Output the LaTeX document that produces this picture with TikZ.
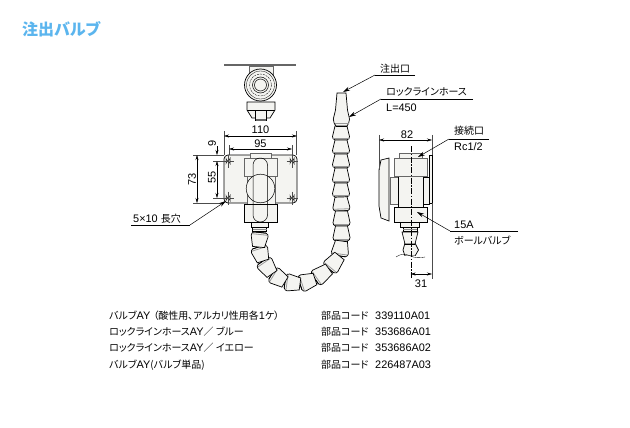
\documentclass[tikz,border=0pt]{standalone}
\usepackage{fontspec}
\setmainfont{Liberation Sans}
\newfontfamily\jp{Noto Sans CJK JP}[RawFeature=+palt,Scale=0.915]
\newfontfamily\jptitle{Noto Sans CJK JP}[RawFeature=+palt]
\usetikzlibrary{arrows.meta,calc}
\definecolor{body}{HTML}{F4F4F1}
\definecolor{titleblue}{HTML}{5BB5EE}
\tikzset{
  part/.style={draw=black,line width=.7pt,fill=body},
  softpart/.style={draw=black!60,line width=.7pt,fill=body},
  dimline/.style={draw=black,line width=.4pt,{Stealth[length=5pt,width=3pt]}-{Stealth[length=5pt,width=3pt]}},
  dimone/.style={draw=black,line width=.4pt,-{Stealth[length=5pt,width=3pt]}},
  leader/.style={draw=black,line width=.5pt,-{Stealth[length=7pt,width=4pt]}},
  shelf/.style={draw=black,line width=.5pt},
  extline/.style={draw=black!70,line width=.3pt},
  lbl/.style={inner sep=0pt,anchor=west,font=\fontsize{10.9}{12}\selectfont},
  dimlbl/.style={inner sep=0pt,font=\fontsize{11}{12}\selectfont},
  centerl/.style={draw=black,line width=.4pt,dash pattern=on 6pt off 1.5pt on 1.5pt off 1.5pt},
}
\newcommand{\hseg}[4]{%
  \pgfmathsetmacro\hang{atan2(-(#4-(#2)),#3-(#1))+90}%
  \pgfmathsetmacro\hlen{veclen(#3-(#1),#4-(#2))}%
  \begin{scope}[shift={(#1,#2)},rotate=\hang]
    \path[part] (-6,0) -- (-8.5,\hlen-3.5) .. controls (-8.8,\hlen-2) and (-7.5,\hlen-.5) .. (-6,\hlen)
      -- (6,\hlen) .. controls (7.5,\hlen-.5) and (8.8,\hlen-2) .. (8.5,\hlen-3.5) -- (6,0) -- cycle;
    \draw[black!40,line width=.8pt] (-7.6,\hlen-2) -- (7.6,\hlen-2);
    \draw[black,line width=.8pt] (-6,\hlen) -- (6,\hlen);
  \end{scope}}
\newcommand{\slot}[2]{%
  \draw[black!70,line width=.3pt] (#1-5.5,#2) -- (#1+5.5,#2) (#1,#2-6.5) -- (#1,#2+6.5);
  \path[part,line width=.5pt] (#1-2,#2-2.5) arc[start angle=180,end angle=0,radius=2] -- (#1+2,#2+2.5) arc[start angle=0,end angle=-180,radius=2] -- cycle;}
\begin{document}
\begin{tikzpicture}[x=1pt,y=-1pt]
\useasboundingbox[fill=white] (0,0) rectangle (630,428);
% title
\node[inner sep=0pt,anchor=west,text=titleblue,font=\fontsize{16}{18}\selectfont\jptitle\bfseries] (title) at (22,29) {注出バルブ};

% top view
\draw[black!60,line width=2.4pt] (224,65) -- (296,65);
\path[softpart] (249,66) rectangle (273,80);
\path[part] (247,102) -- (275,102) -- (275,110) -- (270,118) -- (252,118) -- (247,110) -- cycle;
\path[part] (255,110) rectangle (266,120);
\draw[black!60,line width=1.2pt] (255.5,120) -- (265.5,120);
\draw[line width=.4pt] (247,110) -- (275,110);
\path[part] (260.5,85) circle[radius=16];
\draw[line width=.3pt] (260.5,85) circle[radius=14];
\draw[line width=.35pt,dash pattern=on 2pt off 1pt] (260.5,85) circle[radius=11];
\draw[line width=.5pt] (260.5,85) circle[radius=8];
\draw[line width=.5pt] (260.5,85) circle[radius=6];

% front view
\path[part,rounded corners=4pt] (224,155) rectangle (297,203);
\slot{228}{161}\slot{292}{161}\slot{228}{198}\slot{292}{198}
\path[softpart] (250,153) rectangle (271,158);
\path[softpart] (247,176) rectangle (275,204);
\path[softpart] (244,158) rectangle (277,176);
\path[part] (244,204) rectangle (277,222);
\path[part,line width=.5pt] (260.5,188.5) circle[radius=14.3];
\draw[line width=.5pt,rounded corners=7pt] (253,158) rectangle (267.5,222);
\draw[line width=.45pt] (253,204) -- (267.5,204);
\path[part] (251,222) rectangle (268,227);
\path[part] (252.5,227) rectangle (266.5,231);
\draw[black!45,line width=.8pt] (252.5,229) -- (266.5,229);

% hose
\hseg{341}{126}{341}{140}
\hseg{341}{140}{341}{154}
\hseg{341}{154}{341}{168}
\hseg{341}{168}{341}{183}
\hseg{341}{183}{341}{197}
\hseg{341}{197}{341.5}{211}
\hseg{341.5}{211}{341.5}{226}
\hseg{341.5}{226}{341.5}{241}
\hseg{341.5}{241}{339.5}{256}
\hseg{339.5}{256}{329}{269}
\hseg{329}{269}{315}{279}
\hseg{315}{279}{300}{284}
\hseg{300}{284}{285}{282}
\hseg{285}{282}{272}{274}
\hseg{272}{274}{263}{261}
\hseg{263}{261}{258.5}{247}
\hseg{258.5}{247}{260}{232.5}
% nozzle
\path[part] (337,93) -- (346,93) -- (347.5,110) -- (349.5,119) .. controls (349.7,122) and (348,125) .. (347,126) -- (336,126) .. controls (335,125) and (333,122) .. (333.3,119) -- (335.5,110) -- cycle;
\draw[black!40,line width=.8pt] (334.5,123.5) -- (348.5,123.5);
\draw[black,line width=.8pt] (336,126) -- (347,126);

% side view
\path[part] (423,177) rectangle (429,204);
\path[part] (429,155) rectangle (432,203);
\path[softpart] (390,177) rectangle (398,204);
\path[part] (381,160) -- (389,158) -- (389,221) -- (381,218) -- (379,206) -- (379,170) -- cycle;
\path[softpart] (399,153) rectangle (422,158);
\path[part] (398,173) rectangle (423,207);
\path[softpart] (394,158) rectangle (427,176);
\path[part] (394,207) rectangle (427.5,222);
\path[part] (400,222) rectangle (419,227);
\path[part] (403,227) rectangle (417,231);
\path[part] (405,243) -- (403,250) -- (405,256) -- (415,256) -- (418.5,250) -- (415,243) -- cycle;
\path[part] (402,232) -- (418,232) -- (415,244) -- (405,244) -- cycle;
\draw[black!45,line width=.8pt] (403,229) -- (417,229);
\draw[black,line width=.8pt] (405,244) -- (415,244);
\path[fill=white] (395,256) -- (395,262) -- (426,262) -- (426,256) -- cycle;
\draw[line width=.35pt] (396,257) .. controls (402,253) and (406,254) .. (410.5,256) .. controls (415,258) and (420,258) .. (425,257);
\path[centerl] (410.7,146) -- (410.7,279);
\draw[extline] (432,203) -- (432,279);

% dimensions: front view
\coordinate (a110l) at (224,136); \coordinate (a110r) at (297,136);
\coordinate (a95l) at (229,149); \coordinate (a95r) at (292,149);
\draw[extline] (224,131) -- (224,155) (296.5,131) -- (296.5,155);
\draw[extline] (229,145) -- (229,155) (292,145) -- (292,155);
\draw[dimline] (a110l) -- (a110r);
\draw[dimline] (a95l) -- (a95r);
\node[dimlbl] (d110) at (260.5,130) {110};
\node[dimlbl] (d95) at (260.5,144) {95};
\draw[extline] (193,155) -- (224,155) (193,203) -- (224,203);
\draw[extline] (213,161) -- (224,161) (213,198) -- (224,198);
\coordinate (a73t) at (197,155); \coordinate (a73b) at (197,203);
\coordinate (a55t) at (217,161); \coordinate (a55b) at (217,198);
\coordinate (a9t) at (217,146); \coordinate (a9b) at (217,155);
\draw[dimline] (a73t) -- (a73b);
\draw[dimline] (a55t) -- (a55b);
\draw[dimone] (a9t) -- (a9b);
\node[dimlbl,rotate=90] (d73) at (192,179) {73};
\node[dimlbl,rotate=90] (d55) at (212,177) {55};
\node[dimlbl,rotate=90] (d9) at (212,143) {9};

% dimensions: side view
\coordinate (a82l) at (379,140); \coordinate (a82r) at (432,140);
\coordinate (a31l) at (410.7,274); \coordinate (a31r) at (432,274);
\draw[extline] (379,135) -- (379,170) (432,135) -- (432,155);
\draw[dimline] (a82l) -- (a82r);
\draw[dimline] (a31l) -- (a31r);
\node[dimlbl] (d82) at (407,135) {82};
\node[dimlbl] (d31) at (421,284) {31};

% callouts
\node[lbl] (t1) at (380,69) {\jp 注出口};
\coordinate (s1a) at (375,75); \coordinate (s1b) at (415,75); \coordinate (p1) at (343,92);
\draw[shelf] (s1b) -- (s1a);
\draw[leader] (s1a) -- (p1);
\node[lbl] (t2) at (386,92) {\jp ロックラインホース};
\node[lbl] (t2b) at (386,108) {L=450};
\coordinate (s2a) at (381,99); \coordinate (s2b) at (473,99); \coordinate (p2) at (349,117);
\draw[shelf] (s2b) -- (s2a);
\draw[leader] (s2a) -- (p2);
\node[lbl] (t3) at (454,131) {\jp 接続口};
\node[lbl] (t3b) at (454,147) {Rc1/2};
\coordinate (s3a) at (449,139); \coordinate (s3b) at (489,139); \coordinate (p3) at (418,157);
\draw[shelf] (s3b) -- (s3a);
\draw[leader] (s3a) -- (p3);
\node[lbl] (t4) at (454,225) {15A};
\node[lbl] (t4b) at (454,240) {\jp ボールバルブ};
\coordinate (s4a) at (450,231); \coordinate (s4b) at (518,231); \coordinate (p4) at (417,212);
\draw[shelf] (s4b) -- (s4a);
\draw[leader] (s4a) -- (p4);
\node[lbl] (t5) at (133,219) {5×10 {\jp 長穴}};
\coordinate (s5a) at (190,225); \coordinate (s5b) at (131,225); \coordinate (p5) at (226,201);
\draw[shelf] (s5b) -- (s5a);
\draw[leader] (s5a) -- (p5);

% parts table
\node[lbl] (r1) at (109,316) {\jp バルブ\rmfamily AY\hspace{3pt}\jp（酸性用、アルカリ性用各\rmfamily 1\jp ケ）};
\node[lbl] (r2) at (109,332) {\jp ロックラインホース\rmfamily AY\jp ／ ブルー};
\node[lbl] (r3) at (109,348) {\jp ロックラインホース\rmfamily AY\jp ／ イエロー};
\node[lbl] (r4) at (109,365) {\jp バルブ\rmfamily AY\jp (バルブ単品)};
\node[lbl] (c1) at (321,316) {\jp 部品コード};
\node[lbl] (c2) at (321,332) {\jp 部品コード};
\node[lbl] (c3) at (321,348) {\jp 部品コード};
\node[lbl] (c4) at (321,365) {\jp 部品コード};
\node[lbl] (n1) at (375,316) {339110A01};
\node[lbl] (n2) at (375,332) {353686A01};
\node[lbl] (n3) at (375,348) {353686A02};
\node[lbl] (n4) at (375,365) {226487A03};
\end{tikzpicture}
\end{document}
